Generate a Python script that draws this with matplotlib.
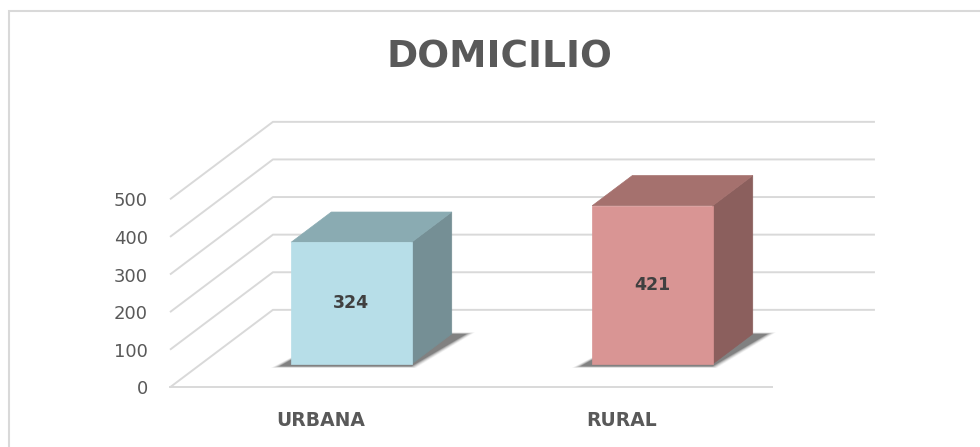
import numpy as np
import matplotlib
matplotlib.use("Agg")
import matplotlib.pyplot as plt
from matplotlib.patches import Polygon, Rectangle

# datos
categorias = ["URBANA", "RURAL"]
valores = [324, 421]
ticks_y = [0, 100, 200, 300, 400, 500]

# colores (frente, tapa, lado) de cada barra
col_frente = ["#B7DEE8", "#D99594"]
col_tapa = ["#8AABB2", "#A5716E"]
col_lado = ["#758F95", "#8B5F5D"]

gris_texto = "#595959"
gris_linea = "#D9D9D9"

# perspectiva oblicua (en unidades de datos)
DX = 0.342   # desplazamiento horizontal del fondo
DY = 206.0   # desplazamiento vertical del fondo
d0, d1 = 0.30, 0.69   # profundidad de la barra (fraccion)
ancho = 0.40


def proy(x, v, d):
    # punto (x, valor, profundidad) -> coordenadas de la grafica
    return (x + d * DX, v + d * DY)


fig = plt.figure(figsize=(9.8, 4.47), dpi=100)
ax = fig.add_axes([170 / 980, 59.7 / 447, 602 / 980, 188 / 447])
ax.set_xlim(0, len(categorias))
ax.set_ylim(0, 500)
for s in ax.spines.values():
    s.set_visible(False)
ax.patch.set_visible(False)

# lineas de division: pared lateral y pared de fondo
for v in ticks_y:
    x0, y0 = proy(0, v, 0)
    x1, y1 = proy(0, v, 1)
    x2, y2 = proy(len(categorias), v, 1)
    ax.plot([x0, x1, x2], [y0, y1, y2], color=gris_linea, lw=1.4,
            clip_on=False, zorder=1, solid_capstyle="butt")
# borde frontal del piso
ax.plot([0, len(categorias)], [0, 0], color=gris_linea, lw=1.4,
        clip_on=False, zorder=1)

# barras 3D
for i, val in enumerate(valores):
    xl = i + 0.5 - ancho / 2
    xr = i + 0.5 + ancho / 2

    # sombra difusa (capas)
    for k, a in enumerate([0.06, 0.09, 0.13, 0.18, 0.25]):
        e = 0.02 - k * 0.005
        sh = [proy(xl - 0.03 - e, 0, d0 - 0.03 - e),
              proy(xr + 0.01 + e, 0, d0 - 0.03 - e),
              proy(xr + 0.05 + e, 0, d1 + e),
              proy(xl + 0.02, 0, d1 + e)]
        ax.add_patch(Polygon(sh, closed=True, facecolor="#1a1a1a", alpha=a,
                             edgecolor="none", clip_on=False, zorder=2))

    frente = [proy(xl, 0, d0), proy(xr, 0, d0), proy(xr, val, d0), proy(xl, val, d0)]
    tapa = [proy(xl, val, d0), proy(xr, val, d0), proy(xr, val, d1), proy(xl, val, d1)]
    lado = [proy(xr, 0, d0), proy(xr, 0, d1), proy(xr, val, d1), proy(xr, val, d0)]
    ax.add_patch(Polygon(lado, closed=True, facecolor=col_lado[i],
                         edgecolor=col_lado[i], lw=0.5, clip_on=False, zorder=3))
    ax.add_patch(Polygon(tapa, closed=True, facecolor=col_tapa[i],
                         edgecolor=col_tapa[i], lw=0.5, clip_on=False, zorder=3))
    ax.add_patch(Polygon(frente, closed=True, facecolor=col_frente[i],
                         edgecolor=col_frente[i], lw=0.5, clip_on=False, zorder=4))

    cx, cy = proy(i + 0.5, val / 2, d0)
    ax.text(cx, cy, str(val), ha="center", va="center", fontsize=12.5,
            fontweight="bold", color="#404040", zorder=5)

# ejes
ax.set_yticks(ticks_y)
ax.set_yticklabels([str(t) for t in ticks_y], fontsize=13, color=gris_texto)
ax.set_xticks([i + 0.5 for i in range(len(categorias))])
ax.set_xticklabels(categorias, fontsize=13.5, fontweight="bold", color=gris_texto)
ax.tick_params(axis="y", length=0, pad=16)
ax.tick_params(axis="x", length=0, pad=17)

fig.text(0.51, 1 - 58 / 447, "DOMICILIO", ha="center", va="center",
         fontsize=27, fontweight="bold", color=gris_texto)

# borde del area del grafico
fig.patches.append(Rectangle((8.5 / 980, -0.05), 1.1, 1 - 11 / 447 + 0.05,
                             transform=fig.transFigure, fill=False,
                             edgecolor=gris_linea, lw=1.5))

fig.savefig("out.png", dpi=100, facecolor="white")
